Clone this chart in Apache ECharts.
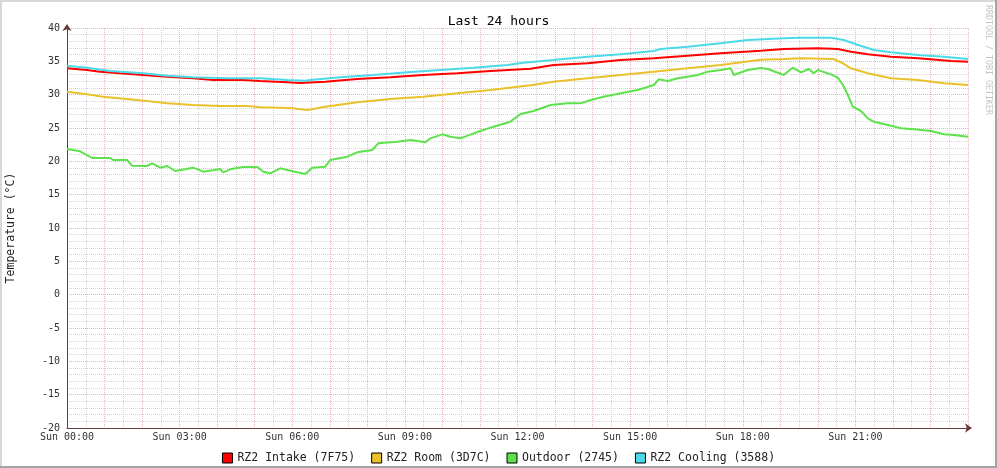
<!DOCTYPE html>
<html>
<head>
<meta charset="utf-8">
<script src="https://cdn.jsdelivr.net/npm/echarts@6/dist/echarts.min.js"></script>
<style>
html,body{margin:0;padding:0;background:#fff;}
#chart{width:997px;height:468px;}
</style>
</head>
<body>
<div id="chart"></div>
<script>
// Hours since Sun 00:00 and temperatures (°C)
const intakeHours = [0,0.53,0.88,1.41,2.03,2.67,3.36,3.89,4.69,5.15,5.87,6.21,6.88,7.73,8.61,9.49,10.4,11.28,12.35,12.96,13.87,14.75,15.63,16.53,17.41,18.48,19.09,20.0,20.53,20.88,21.33,21.95,22.67,23.55,24.0];
const intake = [33.95,33.7,33.45,33.2,32.95,32.7,32.45,32.2,32.2,32.05,31.85,31.75,31.95,32.35,32.6,32.95,33.2,33.55,33.9,34.45,34.7,35.2,35.45,35.85,36.2,36.6,36.85,36.95,36.85,36.45,36.05,35.7,35.45,35.05,34.95];

const roomHours = [0,0.53,0.96,1.6,2.13,2.67,3.36,4.08,4.8,5.15,5.68,6.0,6.4,6.88,7.73,8.61,9.49,10.4,11.28,12.35,12.96,13.87,14.75,15.63,16.53,17.41,18.48,19.09,19.55,20.43,20.67,20.88,21.33,21.95,22.67,23.36,24.0];
const room = [30.45,30.05,29.7,29.35,29.05,28.7,28.45,28.3,28.3,28.1,28.05,27.95,27.7,28.2,28.85,29.35,29.7,30.2,30.7,31.4,31.95,32.45,32.95,33.45,33.95,34.45,35.25,35.35,35.45,35.35,34.7,33.95,33.2,32.45,32.2,31.7,31.45];

const outdoorHours = [0,0.35,0.67,1.15,1.23,1.6,1.73,2.13,2.27,2.48,2.67,2.88,3.36,3.63,4.08,4.16,4.35,4.69,5.07,5.23,5.41,5.68,5.95,6.13,6.35,6.53,6.88,7.01,7.47,7.73,8.13,8.29,8.8,9.15,9.55,9.68,10.0,10.21,10.48,10.83,11.01,11.36,11.81,12.08,12.43,12.88,13.33,13.68,13.95,14.29,14.75,15.2,15.63,15.76,16.0,16.27,16.53,16.8,17.07,17.41,17.68,17.76,18.13,18.48,18.67,19.09,19.33,19.55,19.76,19.89,20.0,20.35,20.53,20.67,20.8,20.93,21.15,21.33,21.49,21.87,22.21,22.56,23.01,23.36,23.63,24.0];
const outdoor = [21.85,21.5,20.5,20.5,20.2,20.2,19.35,19.3,19.7,19.05,19.3,18.55,19.05,18.45,18.85,18.35,18.8,19.15,19.15,18.45,18.2,18.95,18.6,18.35,18.1,19.05,19.2,20.2,20.7,21.35,21.7,22.7,22.95,23.2,22.85,23.45,24.05,23.7,23.45,24.2,24.55,25.2,25.95,27.1,27.55,28.45,28.7,28.7,29.2,29.7,30.2,30.7,31.45,32.3,32.05,32.45,32.7,32.95,33.45,33.7,33.95,32.95,33.7,34.0,33.85,32.95,34.05,33.35,33.85,33.2,33.7,33.05,32.55,31.45,29.95,28.2,27.55,26.45,25.95,25.45,24.95,24.8,24.55,24.05,23.95,23.7];

const coolingHours = [0,0.53,1.15,2.03,2.67,3.36,4.27,5.15,5.87,6.35,6.48,7.28,8.16,9.07,9.95,10.83,11.73,12.16,12.96,13.87,14.75,15.63,15.81,16.53,17.41,18.13,19.09,19.55,20.35,20.69,21.07,21.49,21.95,22.67,23.36,24.0];
const cooling = [34.35,34.05,33.55,33.2,32.85,32.6,32.45,32.45,32.2,32.1,32.2,32.6,32.95,33.35,33.7,34.05,34.45,34.8,35.2,35.7,36.05,36.55,36.85,37.2,37.7,38.2,38.45,38.55,38.55,38.2,37.45,36.7,36.35,35.95,35.7,35.35];

const seriesNames = ['RZ2 Intake (7F75)','RZ2 Room (3D7C)','Outdoor (2745)','RZ2 Cooling (3588)'];
const tickHours = [0,3,6,9,12,15,18,21];
const tickLabels = ['Sun 00:00','Sun 03:00','Sun 06:00','Sun 09:00','Sun 12:00','Sun 15:00','Sun 18:00','Sun 21:00'];

const colors = ['#ff0000','#eac12a','#5ee24c','#4cdae8'];
const mono = 'DejaVu Sans Mono';

function zip(h, v){ return h.map((x,i)=>[x, v[i]]); }
const seriesData = [zip(intakeHours,intake), zip(roomHours,room), zip(outdoorHours,outdoor), zip(coolingHours,cooling)];

const chart = echarts.init(document.getElementById('chart'), null, {renderer:'canvas'});
chart.setOption({
  animation:false,
  backgroundColor:'#ffffff',
  title:{
    text:'Last 24 hours', left:'center', top:10,
    textStyle:{fontFamily:mono, fontSize:13, fontWeight:'normal', color:'#000'}
  },
  grid:{left:67, right:29, top:28, bottom:40, containLabel:false, outerBoundsMode:'none'},
  legend:{
    data:seriesNames, top:447, left:'center',
    icon:'rect', itemWidth:10, itemHeight:10, itemGap:16,
    itemStyle:{borderColor:'#000', borderWidth:1},
    textStyle:{fontFamily:mono, fontSize:11.5, color:'#222'}
  },
  xAxis:{
    type:'value', min:0, max:24, interval:1,
    axisLine:{onZero:false, show:true, lineStyle:{color:'#6a3a3a', width:1}, symbol:['none','arrow'], symbolSize:[7,7], symbolOffset:[0,4]},
    axisTick:{show:false},
    axisLabel:{
      fontFamily:mono, fontSize:10, color:'#333', margin:4, hideOverlap:false,
      showMaxLabel:false,
      formatter:function(v){ const i = tickHours.indexOf(v); return i>=0 ? tickLabels[i] : ''; }
    },
    splitLine:{show:true, lineStyle:{color:'#f0b0b0', type:'dotted', width:1}},
    minorTick:{show:false, splitNumber:2},
    minorSplitLine:{show:true, lineStyle:{color:'#d4d4d4', type:'dotted', width:1}}
  },
  yAxis:{
    type:'value', min:-20, max:40, interval:5,
    name:'Temperature (°C)', nameLocation:'middle', nameGap:50,
    nameTextStyle:{fontFamily:mono, fontSize:11.5, color:'#222'},
    axisLine:{show:true, onZero:false, lineStyle:{color:'#6a3a3a', width:1}, symbol:['none','arrow'], symbolSize:[7,7], symbolOffset:[0,4]},
    axisTick:{show:false},
    axisLabel:{fontFamily:mono, fontSize:10, color:'#333', margin:7},
    splitLine:{show:true, lineStyle:{color:'#f0b0b0', type:'dotted', width:1}},
    minorTick:{show:false, splitNumber:5},
    minorSplitLine:{show:true, lineStyle:{color:'#d4d4d4', type:'dotted', width:1}}
  },
  graphic:[
    {type:'rect', shape:{x:0,y:0,width:997,height:2}, style:{fill:'#d8d8d8'}, silent:true},
    {type:'rect', shape:{x:0,y:0,width:2,height:468}, style:{fill:'#d8d8d8'}, silent:true},
    {type:'rect', shape:{x:995,y:0,width:2,height:468}, style:{fill:'#a4a4a4'}, silent:true},
    {type:'rect', shape:{x:0,y:466,width:997,height:2}, style:{fill:'#a4a4a4'}, silent:true},
    {type:'text', x:992, y:5, rotation:-Math.PI/2,
     style:{text:'RRDTOOL / TOBI OETIKER', fill:'#c4c4c4', font:'8.3px "DejaVu Sans Mono"', textAlign:'left', textVerticalAlign:'top'}, silent:true}
  ],
  series: seriesNames.map((n,i)=>({
    name:n, type:'line', data:seriesData[i], showSymbol:false, symbol:'none',
    color:colors[i], lineStyle:{width:2, color:colors[i]}, z:2+i
  }))
});
</script>
</body>
</html>
